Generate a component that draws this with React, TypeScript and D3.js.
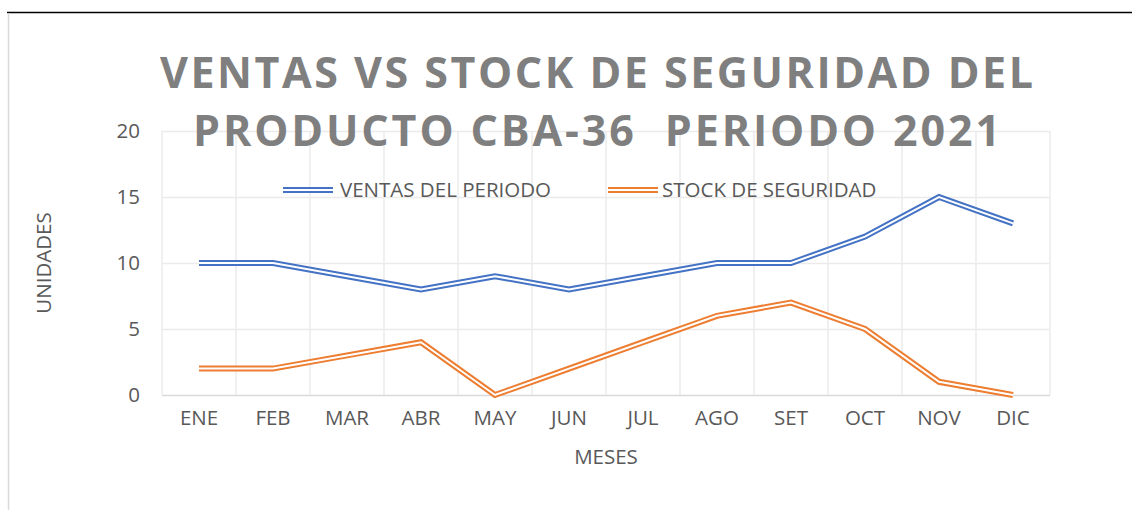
import React, { useRef, useEffect } from 'react';
import * as d3 from 'd3';

const meses = ['ENE', 'FEB', 'MAR', 'ABR', 'MAY', 'JUN', 'JUL', 'AGO', 'SET', 'OCT', 'NOV', 'DIC'];
const ventas = [10, 10, 9, 8, 9, 8, 9, 10, 10, 12, 15, 13];
const stock = [2, 2, 3, 4, 0, 2, 4, 6, 7, 5, 1, 0];
const yTicks = [0, 5, 10, 15, 20];
const titleLines = ['VENTAS VS STOCK DE SEGURIDAD DEL', 'PRODUCTO CBA-36  PERIODO 2021'];

const width = 1132;
const height = 510;
const margin = { top: 131, right: 82, bottom: 115, left: 162 };
const font = '"Open Sans", "Noto Sans", sans-serif';
const fs = 20.5;

const App = () => {
  const svgRef = useRef<SVGSVGElement>(null);

  useEffect(() => {
    const svg = d3.select(svgRef.current);
    svg.selectAll('*').remove();

    const innerWidth = width - margin.left - margin.right;
    const innerHeight = height - margin.top - margin.bottom;

    // frame lines
    svg.append('line').attr('x1', 7).attr('x2', width).attr('y1', 12.5).attr('y2', 12.5)
      .attr('stroke', '#000').attr('stroke-width', 1.5);
    svg.append('line').attr('x1', 8.5).attr('x2', 8.5).attr('y1', 13).attr('y2', height)
      .attr('stroke', '#d9d9d9').attr('stroke-width', 1.5);

    const x = d3.scaleBand().domain(meses).range([0, innerWidth]);
    const y = d3.scaleLinear().domain([0, 20]).range([innerHeight, 0]);

    const g = svg.append('g').attr('transform', `translate(${margin.left},${margin.top})`);

    // horizontal gridlines
    g.selectAll('.hgrid').data(yTicks).enter().append('line')
      .attr('x1', 0).attr('x2', innerWidth)
      .attr('y1', d => y(d) + 0.5).attr('y2', d => y(d) + 0.5)
      .attr('stroke', d => d === 0 ? '#d9d9d9' : '#ebebeb').attr('stroke-width', 1.5);

    // vertical gridlines at band edges
    const edges = meses.map(m => x(m) as number).concat([innerWidth]);
    g.selectAll('.vgrid').data(edges).enter().append('line')
      .attr('x1', d => d).attr('x2', d => d)
      .attr('y1', 0).attr('y2', innerHeight)
      .attr('stroke', '#ebebeb').attr('stroke-width', 1.5);

    // y tick labels
    g.selectAll('.ytick').data(yTicks).enter().append('text')
      .attr('x', -22).attr('y', d => y(d)).attr('dy', '0.35em')
      .attr('text-anchor', 'end').attr('font-family', font).attr('font-size', fs)
      .attr('fill', '#595959').text(d => d);

    // x tick labels
    g.selectAll('.xtick').data(meses).enter().append('text')
      .attr('x', d => (x(d) as number) + x.bandwidth() / 2).attr('y', innerHeight + 23).attr('dy', '0.35em')
      .attr('text-anchor', 'middle').attr('font-family', font).attr('font-size', fs)
      .attr('fill', '#595959').text(d => d);

    // axis titles
    svg.append('text').attr('x', 606).attr('y', 457).attr('dy', '0.35em')
      .attr('text-anchor', 'middle').attr('font-family', font).attr('font-size', fs)
      .attr('fill', '#595959').text('MESES');
    svg.append('text').attr('transform', 'translate(44,263) rotate(-90)').attr('dy', '0.35em')
      .attr('text-anchor', 'middle').attr('font-family', font).attr('font-size', fs)
      .attr('fill', '#595959').text('UNIDADES');

    // title
    const titleSpans = [
      { t: titleLines[0], x: 160, w: 873, y: 88 },
      { t: titleLines[1], x: 193, w: 807, y: 146 },
    ];
    titleSpans.forEach(s => {
      svg.append('text').attr('x', s.x).attr('y', s.y)
        .attr('font-family', font).attr('font-weight', 700).attr('font-size', 43)
        .attr('fill', '#7f7f7f').attr('textLength', s.w).attr('lengthAdjust', 'spacing')
        .attr('xml:space', 'preserve').style('white-space', 'pre').text(s.t);
    });

    // double lines
    const line = d3.line<number>()
      .x((_, i) => (x(meses[i]) as number) + x.bandwidth() / 2)
      .y(d => y(d));

    const series = [
      { name: 'VENTAS DEL PERIODO', values: ventas, color: '#4472c4', lx: 283, tx: 340 },
      { name: 'STOCK DE SEGURIDAD', values: stock, color: '#ed7d31', lx: 608, tx: 662 },
    ];

    series.forEach(s => {
      g.append('path').datum(s.values).attr('fill', 'none')
        .attr('stroke', s.color).attr('stroke-width', 6).attr('stroke-linejoin', 'miter')
        .attr('d', line);
      g.append('path').datum(s.values).attr('fill', 'none')
        .attr('stroke', '#fff').attr('stroke-width', 2).attr('stroke-linejoin', 'miter')
        .attr('d', line);

      // legend
      const ly = 190;
      svg.append('line').attr('x1', s.lx).attr('x2', s.lx + 50).attr('y1', ly).attr('y2', ly)
        .attr('stroke', s.color).attr('stroke-width', 6);
      svg.append('line').attr('x1', s.lx).attr('x2', s.lx + 50).attr('y1', ly).attr('y2', ly)
        .attr('stroke', '#fff').attr('stroke-width', 2);
      svg.append('text').attr('x', s.tx).attr('y', ly).attr('dy', '0.35em')
        .attr('font-family', font).attr('font-size', fs).attr('fill', '#595959').text(s.name);
    });
  }, []);

  return (
    <svg ref={svgRef} width={width} height={height}
      style={{ position: 'absolute', left: 0, top: 0, background: '#fff' }} />
  );
};

export default App;
